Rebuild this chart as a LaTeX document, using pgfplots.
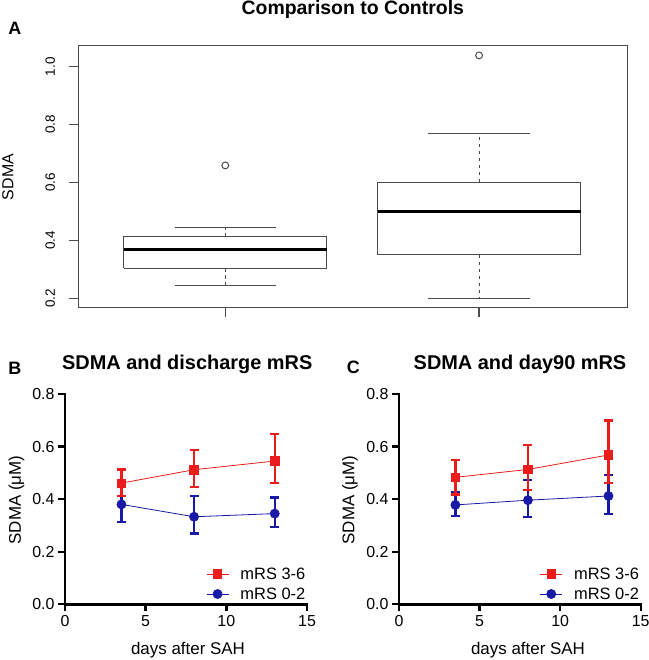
\documentclass[border=0pt]{standalone}
\usepackage{fontspec}
\setmainfont{Liberation Sans}
\usepackage{pgfplots}
\pgfplotsset{compat=1.18}
\definecolor{rred}{RGB}{235,28,28}
\definecolor{rblue}{RGB}{25,25,165}
\definecolor{rgray}{RGB}{75,75,75}

\pgfplotsset{
  bottomstyle/.style={
    scale only axis, width=242bp, height=210.3bp,
    xmin=0, xmax=15, ymin=0, ymax=0.8,
    axis line style={draw=none},
    xtick={0,5,10,15}, ytick={0,0.2,0.4,0.6,0.8},
    tick pos=left,
    tick align=outside, major tick length=7bp,
    every major tick/.append style={draw=none},
    y tick label style={/pgf/number format/.cd, fixed, fixed zerofill, precision=1, /tikz/.cd},
    tick label style={font=\fontsize{16}{18}\selectfont},
    x tick label style={yshift=-1bp},
    /pgf/number format/assume math mode=true,
    clip=false,
    legend style={draw=none, fill=none, font=\fontsize{16.5}{18}\selectfont,
      at={(1,0.01)}, anchor=south east, row sep=4bp, inner sep=0pt,
      nodes={inner sep=1.5bp},
      /tikz/column 1/.style={column sep=10bp}},
    reverse legend,
    legend image code/.code={\draw[mark repeat=2,mark phase=2] plot coordinates {(0bp,0bp)(11bp,0bp)(22bp,0bp)};},
  },
  axln/.style={black, line width=2.6bp, line cap=rect, forget plot},
  tickln/.style={black, line width=2.4bp, forget plot},
  redser/.style={rred, line width=0.8bp, mark=square*, mark size=4.2bp, mark options={solid, fill=rred},
    error bars/.cd, y dir=both, y explicit,
    error bar style={line width=2.4bp},
    error mark options={rotate=90, line width=2.4bp, mark size=4.5bp}},
  blueser/.style={rblue, line width=0.8bp, mark=*, mark size=4.5bp, mark options={solid, fill=rblue},
    error bars/.cd, y dir=both, y explicit,
    error bar style={line width=2.4bp},
    error mark options={rotate=90, line width=2.4bp, mark size=4.5bp}},
  boxln/.style={rgray, line width=1.1bp},
  whisk/.style={rgray, line width=1.1bp, dash pattern=on 3.5bp off 3.5bp},
  medln/.style={black, line width=3bp},
}

\begin{document}
\begin{tikzpicture}[x=1bp,y=1bp]
\useasboundingbox (0,0) rectangle (649,660);

% ---------------- Panel A ----------------
\begin{axis}[
  at={(78.5bp,352.7bp)}, anchor=south west,
  scale only axis, width=548.8bp, height=261.6bp,
  xmin=0.4216, xmax=2.584, ymin=0.1688, ymax=1.0727,
  axis line style={rgray, line width=1.2bp},
  tick pos=left,
  xtick={1,2}, xticklabels={},
  ytick={0.2,0.4,0.6,0.8,1.0},
  y tick label style={xshift=-10bp, rotate=90, anchor=south, font=\fontsize{13.5}{15}\selectfont,
     /pgf/number format/.cd, fixed, fixed zerofill, precision=1, /tikz/.cd},
  /pgf/number format/assume math mode=true,
  tick align=outside, major tick length=10bp,
  tick style={rgray, line width=1.2bp},
  clip=false,
]
% group 1 (box, median, whiskers, caps)
\addplot[boxln] coordinates {(0.6,0.304)(1.4,0.304)(1.4,0.413)(0.6,0.413)(0.6,0.304)};
\addplot[whisk] coordinates {(1,0.413)(1,0.446)};
\addplot[whisk] coordinates {(1,0.304)(1,0.245)};
\addplot[boxln] coordinates {(0.8,0.446)(1.2,0.446)};
\addplot[boxln] coordinates {(0.8,0.245)(1.2,0.245)};
\addplot[medln] coordinates {(0.6,0.367)(1.4,0.367)};
% group 2
\addplot[boxln] coordinates {(1.6,0.350)(2.4,0.350)(2.4,0.600)(1.6,0.600)(1.6,0.350)};
\addplot[whisk] coordinates {(2,0.600)(2,0.769)};
\addplot[whisk] coordinates {(2,0.350)(2,0.200)};
\addplot[boxln] coordinates {(1.8,0.769)(2.2,0.769)};
\addplot[boxln] coordinates {(1.8,0.200)(2.2,0.200)};
\addplot[medln] coordinates {(1.6,0.500)(2.4,0.500)};
% outliers
\addplot[only marks, mark=o, mark size=3.4bp, rgray, line width=1bp] coordinates {(1,0.659)(2,1.039)};
\end{axis}

\node[anchor=base, font=\bfseries\fontsize{19.5}{22}\selectfont] at (352.8,645) {Comparison to Controls};
\node[anchor=base west, inner sep=0, font=\bfseries\fontsize{18}{20}\selectfont] at (8.3,625) {A};
\node[rotate=90, font=\fontsize{16}{18}\selectfont] at (8,483) {SDMA};

% ---------------- Panel B ----------------
\begin{axis}[bottomstyle, at={(65bp,55.7bp)}, anchor=south west]
\addplot[axln] coordinates {(0,0.8)(0,0)(15,0)};
\pgfplotsinvokeforeach{0,0.2,0.4,0.6,0.8}{\addplot[tickln] coordinates {(-0.41,#1)(0,#1)};}
\pgfplotsinvokeforeach{0,5,10,15}{\addplot[tickln] coordinates {(#1,-0.0255)(#1,0)};}
\addplot[blueser] coordinates {
  (3.5,0.380) += (0,0.080) -= (0,0.066)
  (8,0.333)   += (0,0.079) -= (0,0.063)
  (13,0.345)  += (0,0.061) -= (0,0.052)
};
\addlegendentry{mRS 0-2}
\addplot[redser] coordinates {
  (3.5,0.461) += (0,0.052) -= (0,0.048)
  (8,0.512)   += (0,0.076) -= (0,0.065)
  (13,0.545)  += (0,0.103) -= (0,0.084)
};
\addlegendentry{mRS 3-6}
\end{axis}
\node[anchor=base, font=\bfseries\fontsize{20}{22}\selectfont] at (187.2,290) {SDMA and discharge mRS};
\node[anchor=base west, inner sep=0, font=\bfseries\fontsize{18}{20}\selectfont] at (8.3,285) {B};
\node[rotate=90, font=\fontsize{17}{19}\selectfont] at (16.5,160) {SDMA (μM)};
\node[font=\fontsize{17}{19}\selectfont] at (188,10) {days after SAH};

% ---------------- Panel C ----------------
\begin{axis}[bottomstyle, at={(399bp,55.7bp)}, anchor=south west, width=241.7bp]
\addplot[axln] coordinates {(0,0.8)(0,0)(15,0)};
\pgfplotsinvokeforeach{0,0.2,0.4,0.6,0.8}{\addplot[tickln] coordinates {(-0.41,#1)(0,#1)};}
\pgfplotsinvokeforeach{0,5,10,15}{\addplot[tickln] coordinates {(#1,-0.0255)(#1,0)};}
\addplot[blueser] coordinates {
  (3.5,0.378) += (0,0.047) -= (0,0.041)
  (8,0.396)   += (0,0.077) -= (0,0.064)
  (13,0.412)  += (0,0.080) -= (0,0.068)
};
\addlegendentry{mRS 0-2}
\addplot[redser] coordinates {
  (3.5,0.483) += (0,0.065) -= (0,0.065)
  (8,0.513)   += (0,0.092) -= (0,0.078)
  (13,0.568)  += (0,0.131) -= (0,0.107)
};
\addlegendentry{mRS 3-6}
\end{axis}
\node[anchor=base, font=\bfseries\fontsize{20}{22}\selectfont] at (520,290) {SDMA and day90 mRS};
\node[anchor=base west, inner sep=0, font=\bfseries\fontsize{18}{20}\selectfont] at (346.7,286.7) {C};
\node[rotate=90, font=\fontsize{17}{19}\selectfont] at (350,160) {SDMA (μM)};
\node[font=\fontsize{17}{19}\selectfont] at (528,10) {days after SAH};
\end{tikzpicture}
\end{document}
